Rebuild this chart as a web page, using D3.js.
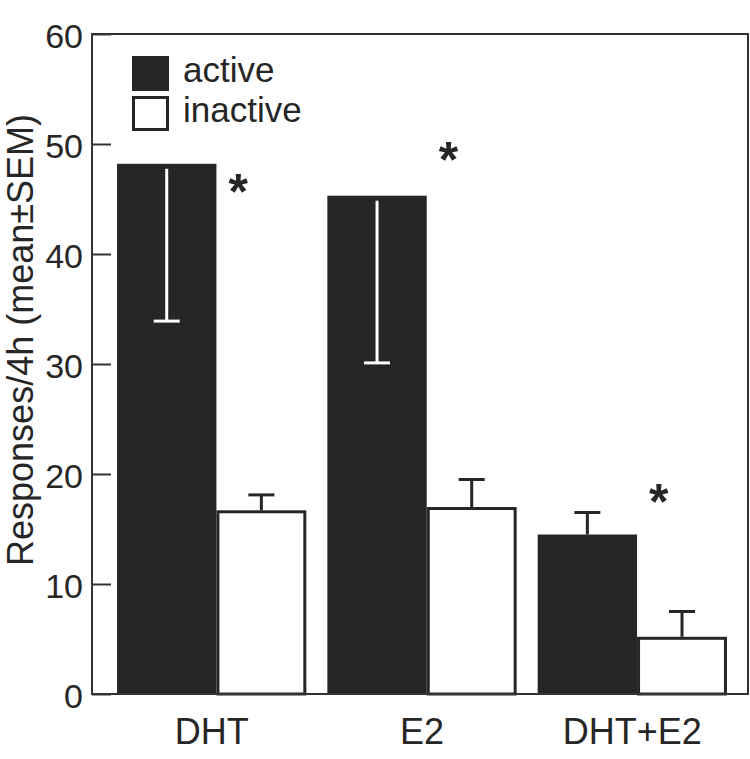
<!DOCTYPE html>
<html>
<head>
<meta charset="utf-8">
<script src="https://cdn.jsdelivr.net/npm/d3@7"></script>
<style>
  html, body { margin: 0; padding: 0; background: #fff; }
  svg { display: block; font-family: "Liberation Sans", Arial, Helvetica, sans-serif; }
</style>
</head>
<body>
<svg id="chart" width="750" height="759"></svg>
<script>
// ---- data ----
const categories = ["DHT", "E2", "DHT+E2"];
const series = ["active", "inactive"];
const activeMean = [48.2, 45.3, 14.5];
const activeSEM = [14.3, 15.2, 2.0];
const inactiveMean = [16.7, 17.0, 5.2];
const inactiveSEM = [1.4, 2.5, 2.3];
const yTicks = [0, 10, 20, 30, 40, 50, 60];
const asteriskValues = [46.5, 49.4, 18.3];
const yLabel = "Responses/4h (mean\u00B1SEM)";

// ---- layout ----
const svg = d3.select("#chart");
const plotL = 92, plotR = 748, plotT = 34, plotB = 694;
const dark = "#262626";

const y = d3.scaleLinear().domain([0, 60]).range([plotB, plotT]);
const x0 = d3.scaleBand().domain(categories).range([96, 748]).paddingInner(0.1).paddingOuter(0.1);
const split = 0.525;
const x1 = d3.scaleOrdinal().domain(series).range([0, split]);
const w1 = d3.scaleOrdinal().domain(series).range([split, 1 - split]);

const rows = [];
categories.forEach((c, i) => {
  rows.push({cat: c, s: "active", mean: activeMean[i], sem: activeSEM[i]});
  rows.push({cat: c, s: "inactive", mean: inactiveMean[i], sem: inactiveSEM[i]});
});
const bw = x0.bandwidth();
const bx = d => x0(d.cat) + x1(d.s) * bw;
const bwid = d => w1(d.s) * bw;

// bars
svg.append("g").selectAll("rect").data(rows).join("rect")
  .attr("x", d => d.s === "active" ? bx(d) : bx(d) + 1.5)
  .attr("y", d => d.s === "active" ? y(d.mean) : y(d.mean) + 1.5)
  .attr("width", d => d.s === "active" ? bwid(d) : bwid(d) - 3)
  .attr("height", d => d.s === "active" ? y(0) - y(d.mean) + 1 : y(0) - y(d.mean) - 1.5)
  .attr("fill", d => d.s === "active" ? dark : "#fff")
  .attr("stroke", d => d.s === "active" ? "none" : dark)
  .attr("stroke-width", 3);

// error bars
const capW = 26;
const eg = svg.append("g");
rows.forEach(d => {
  const cx = bx(d) + bwid(d) / 2;
  const inside = d.s === "active" && d.mean > 30; // drawn downward inside bar in white
  const col = inside ? "#fff" : dark;
  const y1 = inside ? y(d.mean) + 5 : y(d.mean);
  const y2 = inside ? y(d.mean - d.sem) : y(d.mean + d.sem);
  eg.append("line").attr("x1", cx).attr("x2", cx).attr("y1", y1).attr("y2", y2)
    .attr("stroke", col).attr("stroke-width", 3);
  eg.append("line").attr("x1", cx - capW / 2).attr("x2", cx + capW / 2).attr("y1", y2).attr("y2", y2)
    .attr("stroke", col).attr("stroke-width", 3);
});

// frame
svg.append("rect").attr("x", plotL).attr("y", plotT).attr("width", plotR - plotL).attr("height", plotB - plotT)
  .attr("fill", "none").attr("stroke", "#333").attr("stroke-width", 2);

// y axis (ticks inward)
const yAxis = d3.axisLeft(y).tickValues(yTicks).tickSize(-19).tickPadding(9);
const ga = svg.append("g").attr("transform", `translate(${plotL},0)`).call(yAxis);
ga.select(".domain").remove();
ga.selectAll(".tick line").attr("stroke", "#333").attr("stroke-width", 2);
ga.selectAll(".tick text").attr("font-size", 34).attr("fill", dark)
  .attr("font-family", "Liberation Sans, Arial, sans-serif").attr("dy", "0.4em");

// x labels
svg.append("g").selectAll("text").data(categories).join("text")
  .attr("x", d => x0(d) + bw / 2).attr("y", 744)
  .attr("text-anchor", "middle").attr("font-size", 36).attr("fill", dark)
  .text(d => d);

// y label
svg.append("text").attr("transform", `translate(33,340) rotate(-90)`)
  .attr("text-anchor", "middle").attr("font-size", 36).attr("fill", dark).text(yLabel);

// asterisks
svg.append("g").selectAll("text").data(categories).join("text")
  .attr("x", d => x0(d) + bw * 0.64).attr("y", (d, i) => y(asteriskValues[i]) + 26)
  .attr("text-anchor", "middle").attr("font-size", 50).attr("font-weight", "bold").attr("fill", dark)
  .text("*");

// legend
const lg = svg.append("g");
series.forEach((s, i) => {
  lg.append("rect").attr("x", s === "active" ? 132 : 133.5).attr("y", (s === "active" ? 56 : 97.5))
    .attr("width", s === "active" ? 37 : 34).attr("height", s === "active" ? 35 : 32)
    .attr("fill", s === "active" ? dark : "#fff")
    .attr("stroke", s === "active" ? "none" : dark).attr("stroke-width", 3);
  lg.append("text").attr("x", 183).attr("y", 82 + i * 40).attr("font-size", 35).attr("fill", dark).text(s);
});
</script>
</body>
</html>
